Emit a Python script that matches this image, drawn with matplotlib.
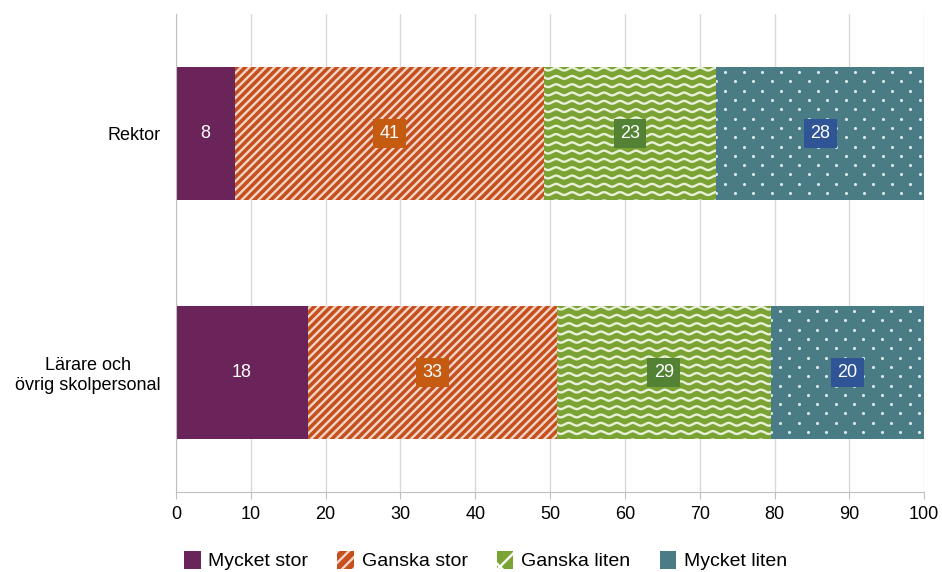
import numpy as np
import matplotlib
matplotlib.use("Agg")
import matplotlib.pyplot as plt
from matplotlib.patches import Patch

plt.rcParams["font.family"] = ["Liberation Sans", "DejaVu Sans"]
plt.rcParams["hatch.linewidth"] = 1.7

# --- Data ---
groups = ["Rektor", "Lärare och\növrig skolpersonal"]
series = ["Mycket stor", "Ganska stor", "Ganska liten", "Mycket liten"]
mycket_stor = [7.9, 17.6]
ganska_stor = [41.3, 33.3]
ganska_liten = [23.0, 28.6]
mycket_liten = [27.8, 20.5]
labels = [[8, 18], [41, 33], [23, 29], [28, 20]]

colors = ["#6A2459", "#C5501E", "#7AA334", "#4A7C86"]
box_colors = [None, "#C55A11", "#548235", "#2F5597"]
hatches = [None, "////", None, None]

fig = plt.figure(figsize=(9.42, 5.72), dpi=100)
ax = fig.add_axes([0.1868, 0.1399, 0.7943, 0.8356])

ypos = np.arange(len(groups))
bar_h = 0.56
values = [mycket_stor, ganska_stor, ganska_liten, mycket_liten]
left = np.zeros(len(groups))
all_bars = []
for i, vals in enumerate(values):
    bars = ax.barh(ypos, vals, left=left, height=bar_h, color=colors[i],
                   edgecolor="#F3D5C8" if hatches[i] else colors[i],
                   linewidth=0, hatch=hatches[i], zorder=2)
    all_bars.append(bars)
    for j, b in enumerate(bars):
        cx = left[j] + vals[j] / 2
        if box_colors[i] is None:
            ax.text(cx, ypos[j], str(labels[i][j]), color="white", fontsize=13,
                    ha="center", va="center", zorder=5)
        else:
            ax.text(cx, ypos[j], str(labels[i][j]), color="white", fontsize=13,
                    ha="center", va="center", zorder=5,
                    bbox=dict(boxstyle="square,pad=0.35", fc=box_colors[i], ec="none"))
    left = left + np.array(vals)

ax.set_xlim(0, 100)
ax.set_ylim(1.5, -0.5)

# pixel scale for pattern drawing
px_x = 100 / (0.7943 * 942)
px_y = 2.0 / (0.8356 * 572)

# wave pattern on "Ganska liten"
for b in all_bars[2]:
    x0, y0 = b.get_x(), b.get_y()
    w, h = b.get_width(), b.get_height()
    xs = np.linspace(x0 - 1, x0 + w + 1, 400)
    period = 16 * px_x
    for k in range(int(h / (8.3 * px_y)) + 2):
        yb = y0 + (k + 0.3) * 8.3 * px_y
        ys = yb + 1.4 * px_y * np.sin(2 * np.pi * (xs - x0) / period)
        ln, = ax.plot(xs, ys, color="#E8F0D8", lw=1.7, zorder=3)
        ln.set_clip_path(b)

# dot pattern on "Mycket liten"
for b in all_bars[3]:
    x0, y0 = b.get_x(), b.get_y()
    w, h = b.get_width(), b.get_height()
    dx, dy = 18.5 * px_x, 9.3 * px_y
    pts_x, pts_y = [], []
    for k in range(int(h / dy) + 1):
        off = 0 if k % 2 == 0 else dx / 2
        xs = np.arange(x0 + dx / 2 + off - dx, x0 + w, dx)
        pts_x.extend(xs)
        pts_y.extend([y0 + (k + 0.6) * dy] * len(xs))
    sc = ax.scatter(pts_x, pts_y, s=5, color="#DCE8EA", linewidths=0, zorder=3)
    sc.set_clip_path(b)

ax.set_yticks(ypos)
ax.set_yticklabels(groups, fontsize=13)
ax.set_xticks(np.arange(0, 101, 10))
ax.tick_params(axis="x", labelsize=13, length=5, color="#BFBFBF", pad=5)
ax.tick_params(axis="y", length=0, pad=11)
for lbl in ax.get_yticklabels():
    lbl.set_multialignment("center")

ax.grid(axis="x", color="#D9D9D9", lw=1, zorder=0)
ax.set_axisbelow(True)
for s in ["top", "right"]:
    ax.spines[s].set_visible(False)
ax.spines["left"].set_color("#BFBFBF")
ax.spines["bottom"].set_color("#BFBFBF")

handles = [
    Patch(facecolor=colors[0], edgecolor=colors[0], lw=0),
    Patch(facecolor=colors[1], edgecolor="#F3D5C8", lw=0, hatch="///"),
    Patch(facecolor=colors[2], edgecolor="white", lw=0, hatch="x"),
    Patch(facecolor=colors[3], edgecolor=colors[3], lw=0),
]
fig.legend(handles, series, loc="center", bbox_to_anchor=(0.5154, 0.02), ncol=4,
           frameon=False, fontsize=14, handlelength=0.85, handleheight=1.05,
           handletextpad=0.4, columnspacing=1.5)

fig.savefig("out.png", dpi=100)
